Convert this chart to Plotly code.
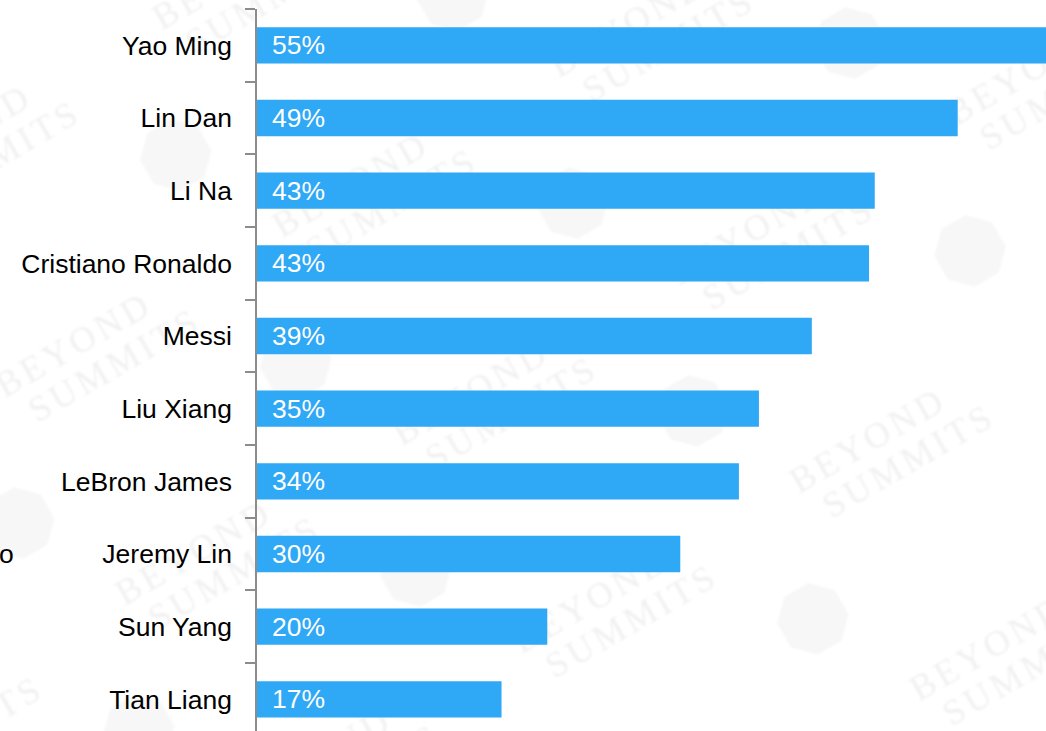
import base64
import math
import plotly.graph_objects as go

# Share of respondents recognising each athlete (percent)
athletes = ["Yao Ming", "Lin Dan", "Li Na", "Cristiano Ronaldo", "Messi",
            "Liu Xiang", "LeBron James", "Jeremy Lin", "Sun Yang", "Tian Liang"]
share_pct = [55.3, 49.0, 43.2, 42.8, 38.8, 35.1, 33.7, 29.6, 20.3, 17.1]

BAR_COLOR = "#2fa8f5"
FONT = "Liberation Sans, Arial, sans-serif"
LABEL_SIZE = 26.5

W, H = 1046, 731
ML, MT = 257, 9
plot_w = W - ML
plot_h = H - MT
px_per_pct = 14.3
row_px = 72.67


def octagon(cx, cy, r):
    pts = []
    for k in range(8):
        a = math.pi / 8 + k * math.pi / 4
        pts.append(f"{cx + r * math.cos(a):.1f},{cy + r * math.sin(a):.1f}")
    return " ".join(pts)


# faint tiled "BEYOND SUMMITS" watermark behind the chart
watermark_svg = f"""<svg xmlns="http://www.w3.org/2000/svg" width="{W}" height="{H}">
<defs>
<filter id="soft"><feGaussianBlur stdDeviation="1.2"/></filter>
<pattern id="wm" width="320" height="240" patternUnits="userSpaceOnUse"
 patternTransform="translate(40,20) rotate(-30)">
<g filter="url(#soft)">
<polygon points="{octagon(50, 185, 36)}" fill="#f7f7f7"/>
<text x="100" y="70" font-family="Liberation Serif, serif" font-size="36"
 fill="#f1f1f1" letter-spacing="4">BEYOND</text>
<text x="116" y="108" font-family="Liberation Serif, serif" font-size="36"
 fill="#f1f1f1" letter-spacing="4">SUMMITS</text>
</g>
</pattern>
</defs>
<rect x="0" y="0" width="{W}" height="{H}" fill="url(#wm)"/>
</svg>"""
watermark_uri = "data:image/svg+xml;base64," + base64.b64encode(
    watermark_svg.encode("utf-8")).decode("ascii")

fig = go.Figure()
fig.add_trace(go.Bar(
    x=share_pct,
    y=athletes,
    orientation="h",
    marker=dict(color=BAR_COLOR, line=dict(width=0)),
    width=0.5,
    hoverinfo="skip",
))

# value labels inside the bars, left aligned
for name, v in zip(athletes, share_pct):
    fig.add_annotation(
        x=0, y=name, xref="x", yref="y",
        text=f"{v:.0f}%", showarrow=False,
        xanchor="left", yanchor="middle", xshift=13,
        font=dict(family=FONT, size=LABEL_SIZE, color="white"),
    )

# stray partial label at the far left edge
fig.add_annotation(
    x=-ML / plot_w, y="Jeremy Lin", xref="paper", yref="y",
    text="o", showarrow=False, xanchor="left", yanchor="middle", xshift=-3,
    font=dict(family=FONT, size=LABEL_SIZE, color="black"),
)

fig.add_layout_image(
    source=watermark_uri,
    xref="paper", yref="paper",
    x=-ML / plot_w, y=1 + MT / plot_h,
    sizex=W / plot_w, sizey=H / plot_h,
    xanchor="left", yanchor="top",
    sizing="stretch", layer="below", opacity=1,
)

y_bottom = -0.5 + plot_h / row_px

fig.update_layout(
    width=W, height=H,
    margin=dict(l=ML, r=0, t=MT, b=0, pad=0),
    paper_bgcolor="white",
    plot_bgcolor="rgba(0,0,0,0)",
    showlegend=False,
    bargap=0.5,
    xaxis=dict(
        range=[0, plot_w / px_per_pct],
        visible=False,
        fixedrange=True,
    ),
    yaxis=dict(
        categoryorder="array",
        categoryarray=athletes,
        range=[y_bottom, -0.5],
        tickson="boundaries",
        ticks="outside",
        ticklen=10,
        tickwidth=1.5,
        tickcolor="#8c8c8c",
        showline=True,
        linecolor="#8c8c8c",
        linewidth=1.5,
        showgrid=False,
        zeroline=False,
        ticklabelstandoff=18,
        tickfont=dict(family=FONT, size=LABEL_SIZE, color="black"),
    ),
)

fig.write_html("out.html")
